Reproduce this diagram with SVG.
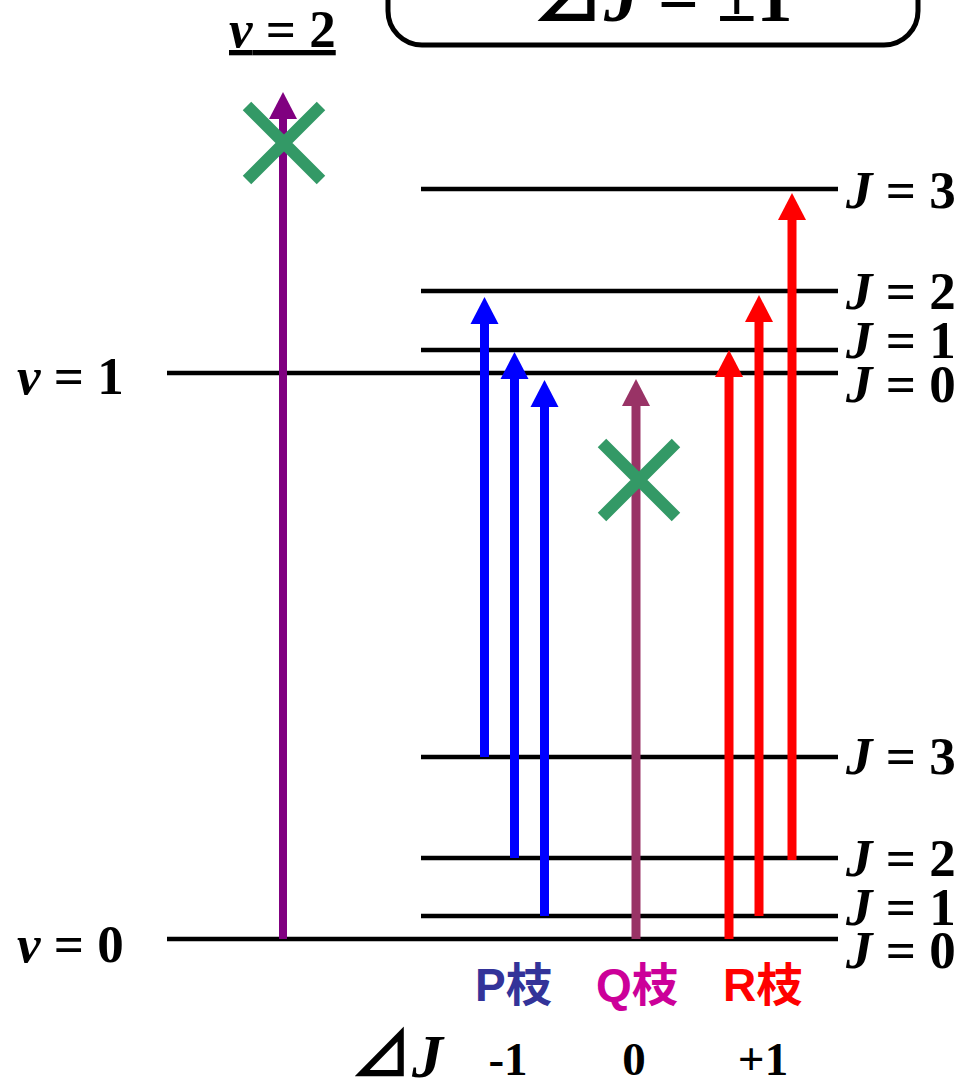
<svg xmlns="http://www.w3.org/2000/svg" width="961" height="1082" viewBox="0 0 961 1082">
<style>
.lv{stroke:#000;stroke-width:4.5;fill:none}
.lbl{font-family:"Liberation Serif","Times New Roman",serif;font-weight:bold;font-size:53px;fill:#000}
.it{font-style:italic}
.br{font-family:"Liberation Sans","Noto Sans CJK JP",sans-serif;font-weight:bold;font-size:46px}
.dj{font-family:"Liberation Serif","Noto Sans CJK JP",serif;font-weight:bold;font-size:47px;fill:#000}
.cross{stroke:#339966;stroke-width:12;fill:none}
</style>
<defs>
<marker id="hPur" markerUnits="userSpaceOnUse" markerWidth="28" markerHeight="28" refX="0" refY="14" orient="auto" overflow="visible"><path d="M0,0 L27,14 L0,28 z" fill="#800080"/></marker>
<marker id="hBlu" markerUnits="userSpaceOnUse" markerWidth="28" markerHeight="28" refX="0" refY="14" orient="auto" overflow="visible"><path d="M0,0 L27,14 L0,28 z" fill="#0000ff"/></marker>
<marker id="hQ" markerUnits="userSpaceOnUse" markerWidth="28" markerHeight="28" refX="0" refY="14" orient="auto" overflow="visible"><path d="M0,0 L27,14 L0,28 z" fill="#993366"/></marker>
<marker id="hRed" markerUnits="userSpaceOnUse" markerWidth="28" markerHeight="28" refX="0" refY="14" orient="auto" overflow="visible"><path d="M0,0 L27,14 L0,28 z" fill="#ff0000"/></marker>
</defs>
<rect width="961" height="1082" fill="#fff"/>

<g id="title">
<rect x="388" y="-40" width="530" height="85" rx="34" fill="none" stroke="#000" stroke-width="5"/>
<text x="532" y="21" style="font-family:'Liberation Serif','Noto Sans CJK JP',serif;font-weight:bold;font-size:72px">⊿<tspan class="it">J</tspan> = ±1</text>
</g>

<g id="v2">
<text x="229" y="47" class="lbl" style="text-decoration:underline"><tspan class="it">v</tspan> = 2</text>
</g>

<g id="v1-level">
<line class="lv" x1="167" y1="373" x2="838" y2="373"/>
<text x="17" y="394" class="lbl"><tspan class="it">v</tspan> = 1</text>
</g>
<g id="v0-level">
<line class="lv" x1="167" y1="939" x2="838" y2="939"/>
<text x="17" y="962" class="lbl"><tspan class="it">v</tspan> = 0</text>
</g>

<g id="upper-J3"><line class="lv" x1="421" y1="189" x2="838" y2="189"/><text x="846" y="208" class="lbl"><tspan class="it">J</tspan> = 3</text></g>
<g id="upper-J2"><line class="lv" x1="421" y1="291" x2="838" y2="291"/><text x="846" y="309" class="lbl"><tspan class="it">J</tspan> = 2</text></g>
<g id="upper-J1"><line class="lv" x1="421" y1="350" x2="838" y2="350"/><text x="846" y="358" class="lbl"><tspan class="it">J</tspan> = 1</text></g>
<g id="upper-J0"><text x="846" y="402" class="lbl"><tspan class="it">J</tspan> = 0</text></g>

<g id="lower-J3"><line class="lv" x1="421" y1="757" x2="838" y2="757"/><text x="846" y="774" class="lbl"><tspan class="it">J</tspan> = 3</text></g>
<g id="lower-J2"><line class="lv" x1="421" y1="858" x2="838" y2="858"/><text x="846" y="876" class="lbl"><tspan class="it">J</tspan> = 2</text></g>
<g id="lower-J1"><line class="lv" x1="421" y1="916" x2="838" y2="916"/><text x="846" y="925" class="lbl"><tspan class="it">J</tspan> = 1</text></g>
<g id="lower-J0"><text x="846" y="968" class="lbl"><tspan class="it">J</tspan> = 0</text></g>

<g id="connectors">
<line x1="283" y1="939" x2="283" y2="119" stroke="#800080" stroke-width="8" marker-end="url(#hPur)"/>
<line x1="484.5" y1="757" x2="484.5" y2="324" stroke="#0000ff" stroke-width="9" marker-end="url(#hBlu)"/>
<line x1="514.5" y1="858" x2="514.5" y2="379" stroke="#0000ff" stroke-width="9" marker-end="url(#hBlu)"/>
<line x1="544.5" y1="916" x2="544.5" y2="407" stroke="#0000ff" stroke-width="9" marker-end="url(#hBlu)"/>
<line x1="636" y1="939" x2="636" y2="406" stroke="#993366" stroke-width="9" marker-end="url(#hQ)"/>
<line x1="729" y1="939" x2="729" y2="377" stroke="#ff0000" stroke-width="9" marker-end="url(#hRed)"/>
<line x1="759" y1="916" x2="759" y2="322" stroke="#ff0000" stroke-width="9" marker-end="url(#hRed)"/>
<line x1="792" y1="860" x2="792" y2="220" stroke="#ff0000" stroke-width="9" marker-end="url(#hRed)"/>
</g>

<g id="forbidden-v2">
<path class="cross" d="M247,106 L321,180 M321,106 L247,180"/>
</g>
<g id="forbidden-Q">
<path class="cross" d="M602,443 L676,517 M676,443 L602,517"/>
</g>

<g id="branch-labels">
<text x="475" y="1001" class="br" fill="#333399">P枝</text>
<text x="596" y="1001" class="br" fill="#cc0099">Q枝</text>
<text x="723" y="1001" class="br" fill="#ff0000">R枝</text>
</g>

<g id="deltaJ-row">
<text x="350" y="1077" style="font-family:'Liberation Serif','Noto Sans CJK JP',serif;font-weight:bold;font-size:62px">⊿<tspan class="it">J</tspan></text>
<text x="508" y="1075" class="dj" text-anchor="middle">-1</text>
<text x="634" y="1075" class="dj" text-anchor="middle">0</text>
<text x="763" y="1075" class="dj" text-anchor="middle">+1</text>
</g>
</svg>
